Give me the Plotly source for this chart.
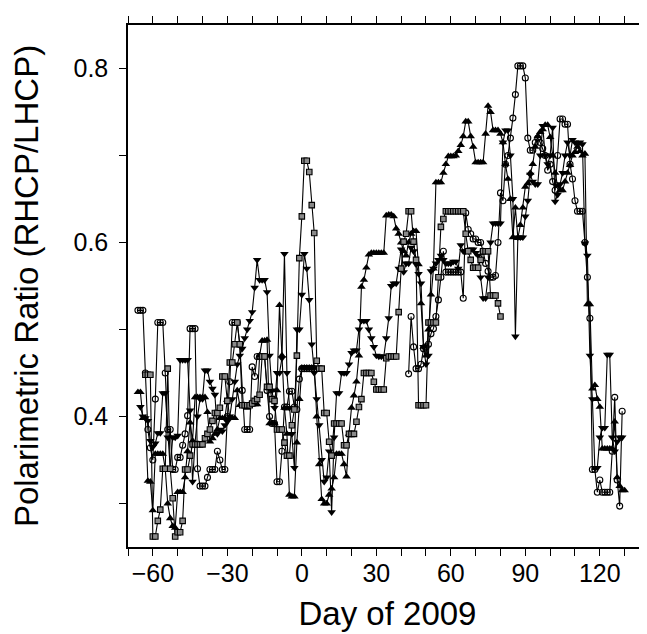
import plotly.graph_objects as go

# ---- data (day of 2009, polarimetric ratio) ----
up_start = -66
up_vals = [0.428, 0.428, 0.398, 0.398, 0.326, 0.325, 0.292, 0.357, 0.357, 0.357,
           0.357, 0.340, 0.300, 0.283, 0.274, 0.272, 0.313, 0.313, 0.313, 0.330,
           0.360, 0.393, 0.372, 0.422, 0.422, 0.422, 0.422, 0.422, 0.405, 0.371,
           0.375, 0.380, 0.385, 0.398, 0.398, 0.398, 0.419, 0.398, 0.398, 0.398,
           0.430, 0.413, 0.413, 0.413, 0.410, 0.414, 0.414, 0.414, 0.414, 0.470,
           0.487, 0.487, 0.488, 0.392, 0.392, 0.392, 0.430, 0.528, 0.470, 0.410,
           0.380, 0.310, 0.308, 0.308, 0.370, 0.420, 0.456, 0.456, 0.456, 0.456,
           0.456, 0.456, 0.400, 0.345, 0.305, 0.300, 0.300, 0.310, 0.317, 0.330,
           0.357, 0.357, 0.357, 0.345, 0.331, 0.380, 0.410, 0.424, 0.440, 0.470,
           0.549, 0.557, 0.571, 0.586, 0.588, 0.588, 0.588, 0.588, 0.588, 0.588,
           0.631, 0.632, 0.632, 0.630, 0.616, 0.610, 0.600, 0.590, 0.585, 0.600,
           0.610, 0.613, 0.613, 0.575, 0.530, 0.480, 0.470, 0.500, 0.540, 0.570,
           0.669, 0.669, 0.669, 0.680, 0.690, 0.699, 0.699, 0.699, 0.700, 0.705,
           0.712, 0.722, 0.739, 0.739, 0.722, 0.710, 0.692, 0.692, 0.692, 0.692,
           0.725, 0.757, 0.750, 0.729, 0.729, 0.729, 0.725, 0.715, 0.690, 0.673,
           0.650, 0.606, 0.640, 0.605, 0.620, 0.640, 0.664, 0.668, 0.680, 0.690,
           0.710, 0.722, 0.727, 0.730, 0.735, 0.735, 0.721, 0.700, 0.680, 0.665,
           0.660, 0.660, 0.670, 0.680, 0.689, 0.700, 0.704, 0.710, 0.705, 0.700,
           0.702, 0.529, 0.529, 0.432, 0.436, 0.420, 0.411, 0.363, 0.363, 0.363,
           0.363, 0.363, 0.394, 0.330, 0.320, 0.315, 0.315]

down_start = -65
down_vals = [0.411, 0.400, 0.398, 0.395, 0.372, 0.365, 0.369, 0.381, 0.381, 0.427,
             0.427, 0.376, 0.340, 0.376, 0.376, 0.378, 0.465, 0.465, 0.465, 0.465,
             0.407, 0.325, 0.370, 0.400, 0.420, 0.420, 0.453, 0.453, 0.440, 0.432,
             0.425, 0.380, 0.385, 0.383, 0.390, 0.394, 0.400, 0.420, 0.440, 0.460,
             0.470, 0.478, 0.490, 0.500, 0.510, 0.520, 0.548, 0.580, 0.557, 0.557,
             0.557, 0.543, 0.470, 0.430, 0.410, 0.450, 0.450, 0.467, 0.587, 0.450,
             0.410, 0.380, 0.341, 0.500, 0.500, 0.540, 0.587, 0.570, 0.534, 0.483,
             0.450, 0.420, 0.390, 0.350, 0.325, 0.330, 0.360, 0.290, 0.376, 0.427,
             0.427, 0.450, 0.450, 0.450, 0.460, 0.473, 0.476, 0.476, 0.500, 0.510,
             0.510, 0.510, 0.500, 0.490, 0.480, 0.470, 0.469, 0.469, 0.469, 0.490,
             0.513, 0.550, 0.553, 0.553, 0.570, 0.592, 0.566, 0.576, 0.576, 0.594,
             0.590, 0.575, 0.564, 0.553, 0.480, 0.460, 0.470, 0.567, 0.570, 0.576,
             0.580, 0.585, 0.580, 0.576, 0.576, 0.576, 0.578, 0.578, 0.570, 0.597,
             0.590, 0.590, 0.590, 0.592, 0.592, 0.588, 0.585, 0.560, 0.536, 0.536,
             0.560, 0.600, 0.622, 0.622, 0.622, 0.622, 0.715, 0.729, 0.729, 0.700,
             0.650, 0.492, 0.606, 0.606, 0.606, 0.630, 0.648, 0.678, 0.670, 0.667,
             0.667, 0.700, 0.734, 0.700, 0.690, 0.700, 0.732, 0.647, 0.655, 0.667,
             0.680, 0.700, 0.715, 0.700, 0.718, 0.715, 0.713, 0.715, 0.713, 0.599,
             0.585, 0.470, 0.420, 0.341, 0.341, 0.376, 0.387, 0.387, 0.471, 0.471,
             0.376, 0.360, 0.371, 0.376, 0.376]

circ_start = -66
circ_vals = [0.522, 0.522, 0.522, 0.450, 0.385, 0.364, 0.350, 0.420, 0.508, 0.508,
             0.508, 0.450, 0.385, 0.385, 0.339, 0.339, 0.353, 0.353, 0.367, 0.380,
             0.401, 0.501, 0.501, 0.501, 0.340, 0.320, 0.320, 0.320, 0.330, 0.339,
             0.339, 0.339, 0.360, 0.350, 0.339, 0.339, 0.400, 0.440, 0.508, 0.508,
             0.508, 0.483, 0.430, 0.385, 0.385, 0.385, 0.457, 0.446, 0.469, 0.469,
             0.469, 0.469, 0.430, 0.400, 0.392, 0.392, 0.325, 0.325, 0.360, 0.411,
             0.411, 0.429, 0.429, 0.411, 0.408, 0.443, 0.455, 0.455, 0.455, 0.455,
             0.455, 0.455,
             None, None, None, None, None, None, None, None, None, None,
             None, None, None, None, None, None, None, None, None, None,
             None, None, None, None, None, None, None, None, None, None,
             None, None, None, None, None, None, None,
             0.449, 0.515, 0.480, 0.455, 0.455, 0.460, 0.478, 0.480, 0.483, 0.495,
             0.501, 0.515, 0.534, 0.560, 0.590, 0.566, 0.566, 0.566, 0.566, 0.566,
             0.566, 0.566, 0.536, 0.634, 0.615, 0.610, 0.604, 0.604, 0.600, 0.600,
             0.590, 0.576, 0.567, 0.560, 0.560, 0.562, 0.600, 0.657, 0.648, 0.690,
             0.700, 0.720, 0.743, 0.770, 0.803, 0.803, 0.803, 0.789, 0.720, 0.706,
             0.706, 0.715, 0.720, 0.715, 0.708, 0.700, 0.683, 0.690, 0.670, 0.660,
             0.700, 0.742, 0.742, 0.736, 0.736, 0.690, 0.673, 0.648, 0.636, 0.636,
             0.636, 0.600, 0.560, 0.513, 0.339, 0.339, 0.313, 0.327, 0.313, 0.313,
             0.313, 0.313, 0.360, 0.422, 0.327, 0.297, 0.406]

sq_start = -63
sq_vals = [0.448, 0.448, 0.448, 0.262, 0.262, 0.280, 0.293, 0.340, 0.340, 0.455,
           0.340, 0.306, 0.262, 0.267, 0.267, 0.280, 0.339, 0.339, 0.355, 0.368,
           0.368, 0.368, 0.368, 0.368, 0.375, 0.380, 0.385, 0.395, 0.404, 0.404,
           0.410, 0.446, 0.446, 0.418, 0.462, 0.462, 0.483, 0.508, 0.483, 0.413,
           0.413, 0.413, 0.413, 0.415, 0.418, 0.420, 0.425, 0.469, 0.469, 0.434,
           0.434, 0.420, 0.418, 0.385, 0.385, 0.385, 0.370, 0.355, 0.355, 0.390,
           0.408, 0.470, 0.582, 0.630, 0.694, 0.694, 0.681, 0.643, 0.611, 0.464,
           0.455, 0.455, 0.404, 0.404, 0.371, 0.355, 0.392, 0.392, 0.392, 0.392,
           0.367, 0.367, 0.380, 0.380, 0.380, 0.394, 0.411, 0.420, 0.450, 0.450,
           0.450, 0.450, 0.440, 0.431, 0.431, 0.431, 0.431, 0.467, 0.469, 0.469,
           0.469, 0.469, 0.520, 0.570, 0.601, 0.610, 0.636, 0.636, 0.601, 0.580,
           0.413, 0.413, 0.413, 0.413, 0.508, 0.508, 0.508, 0.508, 0.560, 0.618,
           0.627, 0.636, 0.636, 0.636, 0.636, 0.636, 0.636, 0.636, 0.636, 0.610,
           0.590, 0.580, 0.571, 0.571, 0.571, 0.580, 0.590, 0.590, 0.590, 0.539,
           0.539, 0.539, 0.530, 0.515]

x_tick_vals = [-60, -30, 0, 30, 60, 90, 120]
y_tick_vals = [0.4, 0.6, 0.8]


def days(start, vals):
    return list(range(start, start + len(vals)))


line_style = dict(color="black", width=1.1)
fig = go.Figure()
fig.add_trace(go.Scatter(x=days(up_start, up_vals), y=up_vals, mode="lines+markers",
                         line=line_style, connectgaps=False,
                         marker=dict(symbol="triangle-up", size=7.5, color="black")))
fig.add_trace(go.Scatter(x=days(down_start, down_vals), y=down_vals, mode="lines+markers",
                         line=line_style,
                         marker=dict(symbol="triangle-down", size=7.5, color="black")))
fig.add_trace(go.Scatter(x=days(circ_start, circ_vals), y=circ_vals, mode="lines+markers",
                         line=line_style, connectgaps=False,
                         marker=dict(symbol="circle-open", size=6, color="black",
                                     line=dict(width=1.1, color="black"))))
fig.add_trace(go.Scatter(x=days(sq_start, sq_vals), y=sq_vals, mode="lines+markers",
                         line=line_style,
                         marker=dict(symbol="square", size=5.5, color="#8a8a8a",
                                     line=dict(width=1.1, color="black"))))

axis_common = dict(showline=True, linecolor="black", linewidth=1.5, mirror="ticks",
                   ticks="outside", ticklen=7, tickwidth=1, tickcolor="black",
                   showgrid=False, zeroline=False, automargin=False,
                   tickfont=dict(family="Liberation Sans", size=25, color="black"))

fig.update_xaxes(range=[-70, 139], tickvals=x_tick_vals,
                 minor=dict(dtick=10, tick0=0, ticks="outside", ticklen=7, tickcolor="black"),
                 ticklabelstandoff=-4,
                 title=dict(text="Day of 2009", standoff=16,
                            font=dict(family="Liberation Sans", size=33, color="black")),
                 **axis_common)
fig.update_yaxes(range=[0.25, 0.85], tickvals=y_tick_vals, tickformat=".1f",
                 minor=dict(dtick=0.1, tick0=0, ticks="outside", ticklen=7, tickcolor="black"),
                 ticklabelstandoff=6,
                 title=dict(text="Polarimetric Ratio (RHCP/LHCP)", standoff=26,
                            font=dict(family="Liberation Sans", size=33, color="black")),
                 **axis_common)

fig.update_layout(width=647, height=634, showlegend=False,
                  paper_bgcolor="white", plot_bgcolor="white",
                  margin=dict(l=120, r=8, t=17, b=95))

fig.write_html("out.html")
